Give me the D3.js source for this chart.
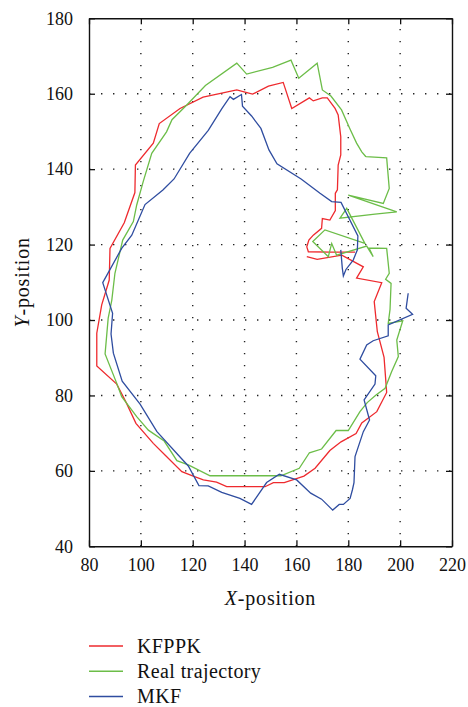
<!DOCTYPE html>
<html>
<head>
<meta charset="utf-8">
<script src="https://cdn.jsdelivr.net/npm/d3@7"></script>
<style>
  html, body { margin: 0; padding: 0; background: #fff; }
  svg { display: block; }
</style>
</head>
<body>
<svg id="chart" width="468" height="707"></svg>
<script>
// ─── Data ─────────────────────────────────────────────────────────────────────

const xTicks = [80, 100, 120, 140, 160, 180, 200, 220];
const yTicks = [40, 60, 80, 100, 120, 140, 160, 180];

const seriesNames = ["KFPPK", "Real trajectory", "MKF"];

// KFPPK estimate (x, y)
const kfppk = [
  [164.0,116.8],[168.0,116.1],[177.5,117.2],[185.8,114.1],[183.2,111.1],[192.9,109.9],
  [190.0,104.9],[191.2,96.9],[193.8,90.1],[194.8,80.8],[191.0,75.7],[185.2,72.7],
  [183.0,69.9],[177.2,67.7],[172.9,65.4],[167.2,60.7],[162.9,58.6],[159.4,57.8],
  [155.3,56.9],[151.1,56.9],[147.9,55.8],[133.1,55.8],[129.2,57.0],[124.1,57.6],
  [120.2,58.6],[115.8,59.8],[109.6,64.0],[104.8,67.3],[98.1,72.6],[94.5,77.9],
  [90.7,83.0],[83.0,87.8],[83.0,96.5],[84.9,104.0],[87.8,110.6],[88.1,119.0],
  [93.6,125.8],[97.7,133.8],[97.9,141.1],[104.8,146.9],[107.1,152.1],[115.1,156.1],
  [124.0,159.1],[137.0,161.0],[139.8,160.5],[143.1,159.9],[149.2,162.0],[154.9,163.0],
  [158.2,156.1],[165.0,158.9],[166.5,158.1],[170.0,158.9],[171.9,158.9],[174.9,156.1],
  [176.1,154.4],[177.1,148.6],[177.1,143.8],[176.1,141.1],[175.8,134.5],[175.0,133.6],
  [175.0,129.0],[172.9,126.5],[170.0,126.9],[169.7,124.3],[166.5,122.5],[164.8,121.2],
  [164.0,119.4],[164.6,118.1],[172.9,118.0],[182.6,118.0]
];

// Real trajectory (x, y)
const realTraj = [
  [186.8,143.3],[194.8,143.0],[195.8,134.9],[193.5,130.9],[180.0,133.1],[198.7,128.7],
  [190.3,128.1],[176.8,127.0],[179.4,129.6],[186.4,120.3],[171.0,123.9],[166.3,120.8],
  [172.3,116.8],[173.6,120.3],[175.5,117.2],[187.1,119.6],[189.6,116.8],[188.0,119.1],
  [194.8,119.0],[195.8,112.4],[194.4,110.8],[196.5,109.7],[196.1,102.8],[195.4,99.1],
  [201.0,99.8],[198.7,94.7],[199.3,90.3],[196.7,86.3],[194.2,81.9],[190.7,80.1],
  [187.3,78.1],[184.5,75.7],[180.0,70.7],[175.3,70.7],[169.7,65.8],[165.0,64.8],
  [161.1,60.7],[154.0,58.7],[126.7,58.7],[118.3,61.6],[113.9,62.7],[109.0,67.9],
  [102.9,70.8],[98.4,74.4],[92.6,79.7],[90.7,83.2],[86.2,91.0],[87.4,100.5],
  [88.8,105.3],[90.0,112.4],[93.0,121.2],[97.1,126.1],[98.4,130.5],[100.9,136.7],
  [104.2,144.2],[109.9,149.9],[112.0,153.1],[117.7,157.0],[124.9,162.2],[137.0,168.1],
  [140.8,165.2],[150.8,167.0],[157.9,168.9],[160.9,164.1],[168.0,168.1],[170.0,161.0],
  [173.3,159.4],[177.4,155.7],[180.7,150.6],[183.2,146.9],[185.2,144.6],[186.8,143.3]
];

// MKF estimate (x, y)
const mkf = [
  [177.1,118.6],[177.7,113.7],[178.1,111.7],[179.1,113.4],[181.9,115.9],[183.5,118.6],
  [183.7,122.3],[177.2,131.2],[173.6,131.4],[169.1,133.6],[161.8,137.4],[152.5,141.4],
  [149.4,145.1],[146.3,150.8],[142.7,154.1],[139.2,156.7],[138.8,159.8],[135.7,158.5],
  [134.4,159.2],[131.3,156.1],[126.0,150.3],[118.8,144.2],[112.8,137.4],[108.5,134.5],
  [101.6,130.6],[96.5,122.5],[92.6,119.0],[85.3,109.9],[89.1,101.8],[88.5,96.3],
  [89.4,91.2],[92.8,83.8],[99.7,77.7],[106.2,70.4],[114.4,64.2],[118.3,61.3],
  [122.4,56.1],[126.0,56.0],[131.2,54.3],[138.2,52.7],[142.7,51.1],[148.5,56.9],
  [153.4,59.1],[160.1,57.6],[165.5,54.1],[169.7,52.5],[174.0,49.6],[176.5,51.1],
  [178.1,51.1],[180.7,52.7],[181.6,55.0],[182.2,56.9],[182.6,63.8],[185.8,70.4],
  [188.2,73.5],[186.1,78.8],[190.3,83.0],[190.6,85.2],[184.5,89.6],[187.1,93.4],
  [189.6,94.5],[195.4,95.8],[195.4,98.7],[204.8,101.5],[202.3,103.1],[203.1,107.1]
];

const seriesColors = ["#ee2a2e", "#6cbd48", "#2f4da0"];

const SERIF = "'Liberation Serif', 'Times New Roman', Times, serif";

// ─── Layout ───────────────────────────────────────────────────────────────────

const W = 468, H = 707;
const M = { left: 89, top: 18.3, right: 16, bottom: 160.7 };
const pw = W - M.left - M.right;
const ph = H - M.top - M.bottom;

const svg = d3.select("#chart");
const g = svg.append("g").attr("transform", `translate(${M.left},${M.top})`);

const x = d3.scaleLinear().domain([80, 220]).range([0, pw]);
const y = d3.scaleLinear().domain([40, 180]).range([ph, 0]);

// ─── Grid ─────────────────────────────────────────────────────────────────────

const grid = g.append("g")
  .attr("stroke", "#222")
  .attr("stroke-width", 1.4)
  .attr("stroke-dasharray", "1.4,10.6");

grid.selectAll(".gx").data(xTicks.slice(1, -1)).join("line")
  .attr("x1", d => x(d)).attr("x2", d => x(d))
  .attr("y1", ph).attr("y2", 0);

grid.selectAll(".gy").data(yTicks.slice(1, -1)).join("line")
  .attr("y1", d => y(d)).attr("y2", d => y(d))
  .attr("x1", 0).attr("x2", pw);

// ─── Series ───────────────────────────────────────────────────────────────────

const line = d3.line().x(d => x(d[0])).y(d => y(d[1]));

[kfppk, realTraj, mkf].forEach((data, i) => {
  g.append("path")
    .datum(data)
    .attr("d", line)
    .attr("fill", "none")
    .attr("stroke", seriesColors[i])
    .attr("stroke-width", 1.3)
    .attr("stroke-linejoin", "miter");
});

// ─── Axes (frame with inward ticks on all sides) ──────────────────────────────

const tickLen = 6;
const axisStyle = sel => {
  sel.attr("font-family", null).attr("font-size", null);
  sel.select(".domain").attr("stroke", "#111").attr("stroke-width", 1.4);
  sel.selectAll(".tick line").attr("stroke", "#111").attr("stroke-width", 1.3);
  sel.selectAll(".tick text")
    .style("font-family", SERIF).style("font-size", "18px").attr("fill", "#111");
};

g.append("g").attr("transform", `translate(0,${ph})`)
  .call(d3.axisBottom(x).tickValues(xTicks).tickSize(-tickLen).tickSizeOuter(0).tickPadding(12))
  .call(axisStyle);

g.append("g")
  .call(d3.axisTop(x).tickValues(xTicks).tickSize(-tickLen).tickSizeOuter(0).tickFormat(""))
  .call(axisStyle);

g.append("g")
  .call(d3.axisLeft(y).tickValues(yTicks).tickSize(-tickLen).tickSizeOuter(0).tickPadding(16))
  .call(axisStyle);

g.append("g").attr("transform", `translate(${pw},0)`)
  .call(d3.axisRight(y).tickValues(yTicks).tickSize(-tickLen).tickSizeOuter(0).tickFormat(""))
  .call(axisStyle);

// ─── Axis titles ──────────────────────────────────────────────────────────────

const titleStyle = sel => sel
  .style("font-family", SERIF).style("font-size", "20px")
  .style("letter-spacing", "0.8px").attr("fill", "#111");

const xt = svg.append("text").call(titleStyle)
  .attr("x", M.left + pw / 2).attr("y", 605).attr("text-anchor", "middle");
xt.append("tspan").attr("font-style", "italic").text("X");
xt.append("tspan").text("-position");

const yt = svg.append("text").call(titleStyle)
  .attr("transform", `translate(29,${M.top + ph / 2}) rotate(-90)`)
  .attr("text-anchor", "middle");
yt.append("tspan").attr("font-style", "italic").text("Y");
yt.append("tspan").text("-position");

// ─── Legend ───────────────────────────────────────────────────────────────────

const legend = svg.append("g").attr("transform", "translate(89,646)");
seriesNames.forEach((name, i) => {
  const row = legend.append("g").attr("transform", `translate(0,${i * 25.3})`);
  row.append("line").attr("x1", 0).attr("x2", 34).attr("y1", 0).attr("y2", 0)
    .attr("stroke", seriesColors[i]).attr("stroke-width", 1.5);
  row.append("text")
    .style("font-family", SERIF).style("font-size", "20px").style("letter-spacing", "0.4px")
    .attr("fill", "#111")
    .attr("x", 48).attr("y", 6.5).text(name);
});
</script>
</body>
</html>
